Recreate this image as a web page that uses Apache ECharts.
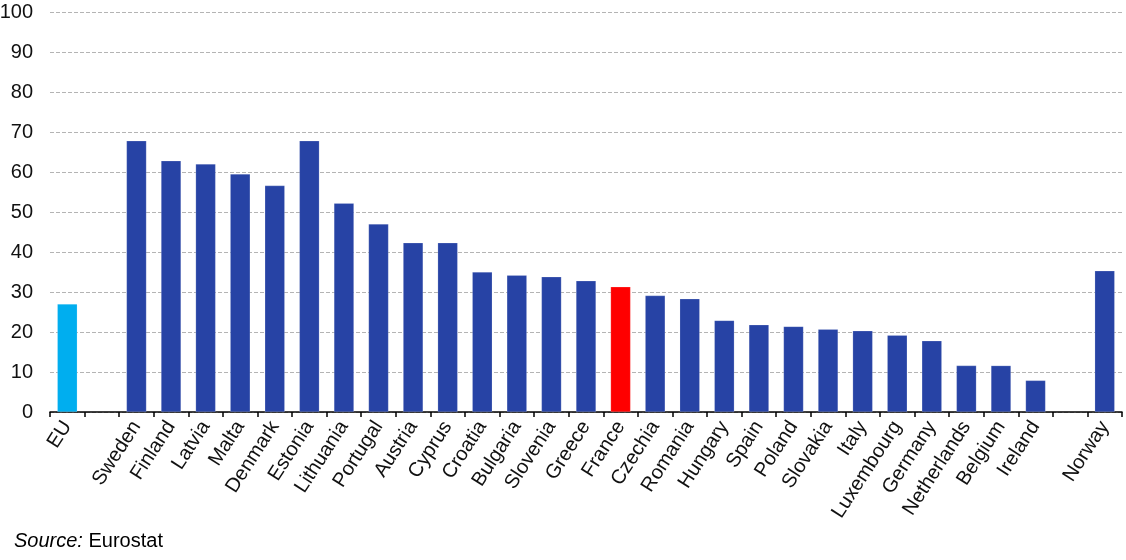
<!DOCTYPE html>
<html>
<head>
<meta charset="utf-8">
<script src="https://cdn.jsdelivr.net/npm/echarts@6/dist/echarts.min.js"></script>
<style>
  html, body { margin: 0; padding: 0; background: #fff; }
  #chart { width: 1126px; height: 560px; }
</style>
</head>
<body>
<div id="chart"></div>
<script>
// categories, blanks are the gaps between EU / member states / Norway
var countries = ['EU', '', 'Sweden', 'Finland', 'Latvia', 'Malta', 'Denmark', 'Estonia', 'Lithuania',
  'Portugal', 'Austria', 'Cyprus', 'Croatia', 'Bulgaria', 'Slovenia', 'Greece', 'France', 'Czechia',
  'Romania', 'Hungary', 'Spain', 'Poland', 'Slovakia', 'Italy', 'Luxembourg', 'Germany', 'Netherlands',
  'Belgium', 'Ireland', '', 'Norway'];
var shares = [27.0, null, 67.8, 62.8, 62.0, 59.5, 56.6, 67.8, 52.2,
  47.0, 42.3, 42.3, 35.0, 34.2, 33.8, 32.8, 31.3, 29.1,
  28.3, 22.9, 21.8, 21.4, 20.7, 20.3, 19.2, 17.8, 11.6,
  11.6, 7.9, null, 35.3];
var yTicks = [0, 10, 20, 30, 40, 50, 60, 70, 80, 90, 100];

var colorOf = function (name) {
  if (name === 'EU') return '#00aeef';
  if (name === 'France') return '#ff0000';
  return '#2743a5';
};

var myChart = echarts.init(document.getElementById('chart'));

var option = {
  animation: false,
  grid: { left: 50, right: 4, top: 12, bottom: 148, containLabel: false, outerBoundsMode: 'none' },
  graphic: [{
    type: 'text',
    left: 14,
    top: 531,
    style: {
      text: '{i|Source:} Eurostat',
      rich: {
        i: { fontStyle: 'italic', fontFamily: 'Liberation Sans, Arial', fontSize: 20, fill: '#000' }
      },
      fontFamily: 'Liberation Sans, Arial',
      fontSize: 20,
      fill: '#000'
    }
  }],
  xAxis: {
    type: 'category',
    data: countries,
    axisLine: { lineStyle: { color: '#000', width: 1.5 } },
    axisTick: { show: true, length: 5, lineStyle: { color: '#000', width: 1.5 } },
    axisLabel: {
      interval: 0,
      rotate: 57,
      margin: 11,
      color: '#111',
      fontSize: 20,
      fontFamily: 'Liberation Sans, Arial'
    }
  },
  yAxis: {
    type: 'value',
    min: yTicks[0],
    max: yTicks[yTicks.length - 1],
    interval: 10,
    axisLine: { show: false },
    axisTick: { show: false },
    axisLabel: {
      margin: 17,
      color: '#111',
      fontSize: 20,
      fontFamily: 'Liberation Sans, Arial'
    },
    splitLine: { lineStyle: { color: '#b4b4b4', type: [4, 2], width: 1 } }
  },
  series: [{
    type: 'bar',
    barWidth: 20,
    data: shares.map(function (v, i) {
      return {
        value: v === null ? '-' : v,
        itemStyle: { color: colorOf(countries[i]), borderColor: 'rgba(255,255,255,0.35)', borderWidth: 0.5 }
      };
    })
  }]
};

myChart.setOption(option);
</script>
</body>
</html>
